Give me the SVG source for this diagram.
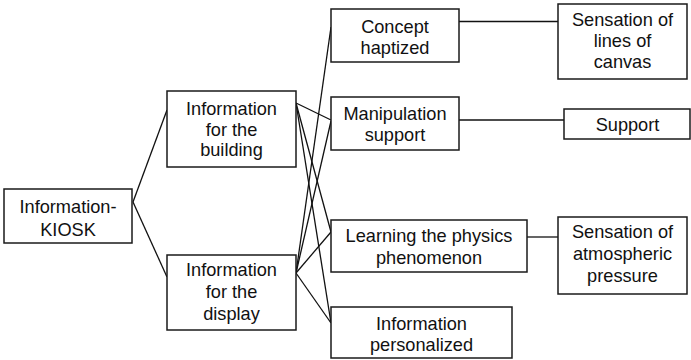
<svg xmlns="http://www.w3.org/2000/svg" width="691" height="360" viewBox="0 0 691 360">
  <style>
    .box { fill: #ffffff; stroke: #1a1a1a; stroke-width: 1.5; }
    .lbl { font-family: "Liberation Sans", Arial, sans-serif; font-size: 18.2px; fill: #111111; text-anchor: middle; }
    .edge { stroke: #111111; stroke-width: 1.3; fill: none; }
  </style>
  <rect width="691" height="360" fill="#ffffff"/>

  <!-- connectors -->
  <g id="connectors">
    <line class="edge" x1="133" y1="202" x2="167" y2="110"/>
    <line class="edge" x1="133" y1="202" x2="167" y2="277"/>
    <line class="edge" x1="296" y1="103" x2="331" y2="120"/>
    <line class="edge" x1="296" y1="103" x2="331" y2="232"/>
    <line class="edge" x1="296" y1="103" x2="331" y2="323"/>
    <line class="edge" x1="296" y1="273" x2="331" y2="27"/>
    <line class="edge" x1="296" y1="273" x2="331" y2="121"/>
    <line class="edge" x1="296" y1="273" x2="331" y2="232"/>
    <line class="edge" x1="296" y1="273" x2="331" y2="323"/>
    <line class="edge" x1="459" y1="21.5" x2="558" y2="21.5"/>
    <line class="edge" x1="459" y1="120" x2="564" y2="120"/>
    <line class="edge" x1="527" y1="237" x2="558" y2="237"/>
  </g>

  <g id="kiosk">
    <rect class="box" x="4" y="189" width="128" height="54"/>
    <text class="lbl" x="68" y="213">Information-</text>
    <text class="lbl" x="68" y="235.5">KIOSK</text>
  </g>

  <g id="info-building">
    <rect class="box" x="167" y="91" width="129" height="76"/>
    <text class="lbl" x="231.5" y="115">Information</text>
    <text class="lbl" x="231.5" y="135.5">for the</text>
    <text class="lbl" x="231.5" y="156">building</text>
  </g>

  <g id="info-display">
    <rect class="box" x="167" y="255" width="129" height="75"/>
    <text class="lbl" x="231.5" y="276">Information</text>
    <text class="lbl" x="231.5" y="298">for the</text>
    <text class="lbl" x="231.5" y="320">display</text>
  </g>

  <g id="concept-haptized">
    <rect class="box" x="331" y="9" width="128" height="53"/>
    <text class="lbl" x="395" y="32.5">Concept</text>
    <text class="lbl" x="395" y="54">haptized</text>
  </g>

  <g id="manipulation-support">
    <rect class="box" x="331" y="97" width="128" height="53"/>
    <text class="lbl" x="395" y="120">Manipulation</text>
    <text class="lbl" x="395" y="141">support</text>
  </g>

  <g id="learning-physics">
    <rect class="box" x="331" y="220" width="196" height="52"/>
    <text class="lbl" x="429" y="242">Learning the physics</text>
    <text class="lbl" x="429" y="263.5">phenomenon</text>
  </g>

  <g id="info-personalized">
    <rect class="box" x="331" y="307" width="181" height="51"/>
    <text class="lbl" x="421.5" y="330">Information</text>
    <text class="lbl" x="421.5" y="351">personalized</text>
  </g>

  <g id="sensation-canvas">
    <rect class="box" x="558" y="4" width="129" height="75"/>
    <text class="lbl" x="622.5" y="26">Sensation of</text>
    <text class="lbl" x="622.5" y="47">lines of</text>
    <text class="lbl" x="622.5" y="68">canvas</text>
  </g>

  <g id="support">
    <rect class="box" x="564" y="109" width="126" height="30"/>
    <text class="lbl" x="627.5" y="131">Support</text>
  </g>

  <g id="sensation-pressure">
    <rect class="box" x="558" y="217" width="129" height="77"/>
    <text class="lbl" x="622.5" y="238">Sensation of</text>
    <text class="lbl" x="622.5" y="260">atmospheric</text>
    <text class="lbl" x="622.5" y="282">pressure</text>
  </g>
</svg>
